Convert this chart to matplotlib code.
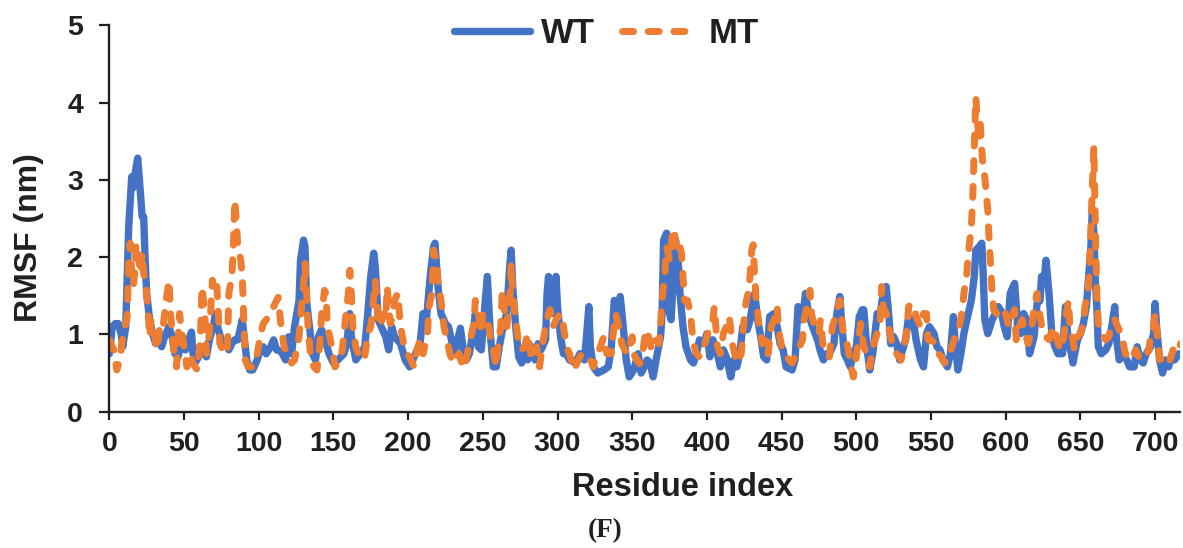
import matplotlib
matplotlib.use("Agg")
import matplotlib.pyplot as plt

plt.rcParams['font.family'] = ['Liberation Sans', 'DejaVu Sans']
plt.rcParams['font.weight'] = 'bold'

# RMSF per residue (nm)
wt_residue = [0, 2, 4, 6, 8, 9, 11, 12, 13, 15, 16, 18,
              19, 20, 22, 23, 24, 25, 27, 29, 31, 33, 35, 37,
              40, 42, 44, 46, 48, 51, 53, 55, 56, 58, 61, 63,
              65, 67, 70, 71, 73, 75, 78, 80, 82, 84, 86, 89,
              90, 92, 94, 96, 99, 101, 103, 105, 108, 110, 112, 115,
              118, 120, 122, 124, 127, 128, 130, 131, 132, 134, 136, 138,
              140, 142, 144, 147, 150, 153, 157, 159, 161, 162, 165, 168,
              171, 173, 175, 177, 178, 180, 182, 185, 187, 189, 191, 195,
              198, 201, 205, 208, 210, 212, 215, 217, 218, 220, 222, 225,
              227, 229, 231, 235, 237, 239, 241, 244, 245, 247, 249, 251,
              253, 255, 257, 259, 261, 264, 266, 268, 269, 270, 272, 274,
              276, 278, 280, 283, 285, 287, 289, 292, 293, 294, 295, 297,
              299, 300, 302, 304, 306, 308, 312, 315, 318, 319, 321, 322,
              324, 327, 331, 334, 336, 338, 340, 342, 344, 346, 348, 351,
              354, 356, 358, 360, 362, 364, 366, 369, 370, 371, 373, 374,
              376, 378, 379, 381, 382, 384, 386, 389, 391, 393, 395, 398,
              400, 402, 404, 407, 409, 411, 413, 416, 418, 420, 422, 424,
              427, 429, 431, 432, 434, 436, 438, 440, 442, 445, 447, 449,
              451, 453, 457, 459, 461, 464, 466, 468, 470, 474, 476, 478,
              480, 482, 485, 487, 489, 490, 492, 494, 496, 498, 500, 502,
              504, 505, 507, 509, 511, 514, 516, 518, 520, 522, 523, 525,
              527, 529, 531, 533, 535, 536, 538, 540, 543, 545, 547, 549,
              552, 554, 556, 558, 561, 563, 565, 566, 568, 570, 572, 574,
              576, 577, 579, 580, 582, 584, 585, 586, 588, 591, 593, 595,
              597, 599, 601, 603, 605, 606, 608, 610, 612, 614, 616, 619,
              621, 623, 624, 626, 627, 629, 631, 633, 635, 638, 640, 642,
              644, 645, 648, 650, 652, 654, 655, 657, 658, 659, 660, 661,
              662, 664, 667, 669, 671, 673, 674, 676, 678, 681, 683, 686,
              688, 690, 692, 694, 697, 699, 700, 701, 703, 705, 707, 709,
              711, 713, 716]
wt_rmsf = [0.75, 1.10, 1.14, 1.14, 1.00, 0.84, 1.10, 1.75, 2.40, 3.04, 2.90, 3.17,
           3.28, 3.04, 2.52, 2.52, 1.96, 1.53, 1.19, 1.01, 0.88, 0.97, 0.84, 0.97,
           1.10, 0.97, 0.75, 0.71, 0.88, 0.80, 0.93, 1.03, 0.75, 0.65, 0.75, 0.84,
           0.71, 0.93, 1.14, 1.27, 1.06, 0.93, 0.88, 0.80, 0.88, 0.93, 0.93, 1.19,
           1.01, 0.67, 0.54, 0.54, 0.67, 0.80, 0.84, 0.75, 0.84, 0.93, 0.80, 0.78,
           0.67, 0.97, 0.75, 1.10, 1.44, 1.96, 2.22, 2.13, 1.44, 1.10, 0.75, 0.67,
           0.97, 1.06, 0.97, 0.75, 0.63, 0.67, 0.75, 0.88, 1.27, 0.97, 0.67, 0.75,
           0.84, 1.27, 1.75, 2.05, 1.88, 1.19, 1.10, 0.97, 0.80, 1.10, 0.97, 0.88,
           0.67, 0.58, 0.75, 0.88, 1.27, 1.14, 1.79, 2.13, 2.18, 1.62, 1.27, 1.14,
           1.10, 0.93, 0.75, 1.08, 0.80, 0.67, 0.75, 1.10, 1.27, 0.84, 0.80, 1.27,
           1.75, 1.01, 0.58, 0.58, 0.84, 1.14, 1.27, 1.88, 2.09, 1.62, 1.10, 0.71,
           0.63, 0.75, 0.67, 0.84, 0.67, 0.88, 0.80, 0.93, 1.53, 1.75, 1.27, 1.27,
           1.75, 1.36, 0.97, 0.75, 0.75, 0.67, 0.63, 0.75, 0.67, 0.88, 1.36, 0.84,
           0.58, 0.50, 0.54, 0.58, 0.84, 1.44, 1.27, 1.49, 1.10, 0.67, 0.45, 0.54,
           0.75, 0.50, 0.58, 0.67, 0.63, 0.45, 0.67, 0.97, 1.27, 2.22, 2.31, 1.36,
           1.19, 1.88, 2.22, 1.88, 1.53, 1.10, 0.84, 0.67, 0.63, 0.75, 0.93, 0.88,
           1.01, 0.71, 0.93, 0.75, 0.58, 0.80, 0.71, 0.45, 0.67, 0.58, 0.75, 1.10,
           1.06, 1.19, 1.44, 1.53, 1.19, 0.97, 0.71, 0.67, 1.23, 1.27, 1.10, 0.88,
           0.80, 0.58, 0.54, 0.67, 1.36, 1.19, 1.53, 1.27, 1.14, 0.93, 0.78, 0.67,
           0.75, 0.75, 0.88, 1.27, 1.49, 1.19, 0.75, 0.67, 0.58, 0.75, 0.84, 1.23,
           1.32, 1.32, 0.84, 0.54, 0.75, 1.27, 1.27, 1.53, 1.62, 1.19, 0.88, 0.97,
           0.88, 0.67, 0.80, 0.93, 1.23, 1.14, 1.19, 0.93, 0.67, 0.58, 1.01, 1.10,
           1.01, 0.84, 0.80, 0.67, 0.58, 0.75, 1.23, 0.93, 0.54, 0.75, 1.01, 1.19,
           1.36, 1.44, 1.75, 2.09, 2.13, 2.18, 1.75, 1.19, 1.01, 1.19, 1.27, 1.36,
           1.30, 1.10, 0.97, 1.53, 1.62, 1.66, 1.10, 1.01, 1.27, 1.19, 0.75, 0.97,
           1.40, 1.44, 1.75, 1.75, 1.96, 1.53, 0.97, 0.84, 0.75, 0.75, 1.36, 0.88,
           0.75, 0.63, 0.93, 1.01, 1.14, 1.36, 1.62, 2.13, 2.61, 2.31, 1.70, 1.36,
           0.84, 0.75, 0.80, 0.88, 1.10, 1.36, 0.97, 0.67, 0.75, 0.67, 0.58, 0.58,
           0.84, 0.67, 0.63, 0.75, 0.84, 1.01, 1.40, 1.10, 0.67, 0.50, 0.67, 0.58,
           0.71, 0.67, 0.75]

mt_residue = [0, 3, 5, 7, 9, 12, 13, 14, 15, 16, 17, 18,
              19, 21, 22, 23, 24, 25, 26, 27, 28, 30, 32, 34,
              36, 38, 40, 41, 43, 45, 47, 48, 52, 54, 56, 59,
              61, 62, 64, 65, 67, 69, 71, 72, 73, 74, 76, 79,
              80, 82, 83, 84, 85, 86, 88, 89, 90, 91, 93, 96,
              99, 101, 103, 105, 108, 110, 113, 115, 117, 119, 122, 124,
              127, 128, 130, 131, 132, 133, 135, 137, 139, 141, 142, 144,
              145, 146, 148, 150, 151, 153, 156, 158, 160, 161, 162, 163,
              165, 168, 171, 173, 175, 177, 178, 180, 181, 184, 185, 186,
              188, 189, 191, 193, 195, 197, 199, 201, 204, 206, 208, 210,
              213, 214, 216, 217, 219, 220, 222, 224, 226, 228, 230, 234,
              237, 239, 241, 244, 245, 247, 249, 250, 252, 254, 255, 257,
              259, 260, 262, 263, 265, 266, 268, 269, 270, 272, 274, 276,
              278, 280, 282, 284, 286, 288, 290, 292, 294, 295, 297, 299,
              302, 304, 306, 308, 311, 314, 316, 318, 322, 324, 326, 328,
              331, 333, 336, 337, 339, 341, 343, 345, 347, 350, 351, 353,
              355, 357, 359, 361, 363, 365, 368, 369, 370, 372, 373, 375,
              377, 378, 380, 382, 383, 384, 385, 387, 389, 390, 391, 393,
              395, 398, 400, 402, 404, 405, 407, 409, 411, 413, 415, 417,
              418, 420, 423, 424, 426, 428, 429, 430, 431, 432, 433, 435,
              437, 440, 441, 443, 445, 447, 448, 450, 452, 455, 457, 459,
              461, 464, 465, 467, 469, 470, 472, 475, 476, 478, 480, 482,
              484, 486, 487, 489, 491, 493, 495, 497, 498, 500, 501, 503,
              505, 507, 509, 511, 514, 516, 517, 518, 520, 521, 523, 525,
              527, 530, 532, 534, 535, 537, 539, 540, 543, 545, 547, 548,
              550, 553, 555, 557, 559, 562, 564, 566, 569, 571, 572, 574,
              575, 577, 578, 579, 580, 581, 582, 583, 584, 585, 586, 587,
              588, 589, 590, 591, 592, 594, 596, 598, 600, 602, 603, 605,
              606, 607, 609, 611, 613, 615, 617, 619, 620, 621, 623, 625,
              627, 629, 632, 633, 635, 637, 639, 640, 642, 643, 645, 646,
              648, 650, 652, 653, 655, 656, 657, 658, 659, 660, 661, 662,
              664, 667, 669, 671, 673, 675, 678, 680, 682, 684, 687, 689,
              691, 693, 696, 697, 699, 700, 702, 703, 706, 708, 710, 712,
              715, 717]
mt_rmsf = [0.93, 0.80, 0.54, 0.67, 0.97, 1.23, 1.96, 2.18, 1.79, 1.62, 1.79, 2.18,
           2.05, 1.79, 2.05, 1.79, 1.70, 1.53, 1.27, 0.97, 1.19, 1.01, 0.80, 1.14,
           1.10, 1.44, 1.70, 1.27, 0.80, 0.58, 1.27, 1.10, 0.58, 0.75, 0.62, 0.54,
           0.97, 1.62, 1.27, 0.75, 1.01, 1.70, 1.53, 1.62, 1.27, 0.88, 0.80, 0.75,
           1.53, 1.75, 2.14, 2.74, 2.48, 2.14, 1.96, 1.75, 1.19, 0.67, 0.58, 0.58,
           0.75, 0.97, 1.14, 1.19, 1.27, 1.36, 1.48, 1.10, 0.84, 0.75, 0.63, 0.67,
           0.97, 1.23, 1.62, 1.92, 1.57, 1.10, 0.67, 0.58, 0.54, 0.88, 1.23, 1.57,
           1.53, 1.10, 0.93, 0.71, 0.58, 0.63, 0.80, 1.19, 1.53, 1.83, 1.53, 1.10,
           0.84, 0.67, 0.71, 1.01, 1.10, 1.48, 1.70, 1.19, 1.10, 1.27, 1.19, 1.62,
           1.14, 1.19, 1.44, 1.53, 1.10, 0.88, 0.75, 0.71, 0.58, 0.80, 0.93, 0.75,
           1.01, 1.36, 1.53, 2.09, 1.96, 1.70, 1.44, 1.10, 0.93, 0.75, 0.63, 0.75,
           0.56, 0.69, 0.88, 1.14, 1.44, 1.27, 1.01, 1.27, 1.19, 1.10, 0.97, 0.80,
           0.58, 0.80, 1.10, 1.57, 1.23, 1.10, 1.44, 1.92, 1.53, 1.19, 0.88, 0.80,
           0.84, 1.01, 0.75, 0.67, 0.84, 0.58, 0.88, 1.10, 1.27, 1.32, 1.10, 1.19,
           1.27, 1.10, 0.84, 0.75, 0.54, 0.67, 0.75, 0.75, 0.67, 0.58, 0.75, 0.80,
           0.97, 0.75, 0.75, 0.97, 1.27, 1.10, 0.88, 0.80, 0.75, 0.97, 0.75, 0.67,
           0.62, 0.75, 1.06, 0.97, 0.80, 0.93, 0.88, 1.14, 1.44, 1.83, 2.13, 1.96,
           2.31, 2.37, 2.05, 2.13, 2.05, 1.75, 1.44, 1.44, 1.27, 1.06, 0.88, 0.75,
           0.71, 0.84, 0.97, 1.10, 1.19, 1.36, 0.84, 0.75, 1.01, 1.10, 1.23, 0.88,
           0.80, 0.63, 0.75, 1.01, 1.40, 1.57, 1.79, 2.09, 2.16, 1.75, 1.44, 1.10,
           0.88, 0.93, 0.75, 1.10, 1.19, 1.36, 1.06, 0.84, 0.75, 0.67, 0.63, 0.71,
           0.80, 0.93, 1.19, 1.36, 1.57, 1.27, 1.10, 1.01, 1.19, 0.80, 0.75, 0.71,
           1.10, 1.23, 1.32, 1.44, 1.06, 0.97, 0.75, 0.54, 0.45, 0.71, 0.88, 1.14,
           0.84, 0.75, 0.58, 0.84, 1.01, 1.19, 1.62, 1.36, 1.27, 1.14, 0.97, 0.80,
           0.75, 0.67, 0.84, 1.06, 1.36, 1.40, 1.32, 1.23, 1.10, 1.27, 1.27, 0.93,
           0.93, 0.88, 0.75, 0.71, 0.63, 0.71, 0.84, 0.97, 1.10, 1.32, 1.53, 1.79,
           2.05, 2.39, 2.80, 3.45, 4.07, 3.77, 3.56, 3.73, 3.39, 3.13, 3.04, 2.82,
           2.61, 2.18, 1.88, 1.49, 1.32, 1.27, 1.23, 1.19, 1.27, 1.10, 1.14, 1.27,
           1.32, 0.93, 1.10, 1.19, 1.01, 0.88, 1.01, 1.36, 1.44, 1.53, 1.23, 1.01,
           0.97, 0.93, 1.10, 1.06, 0.88, 0.80, 0.97, 1.19, 1.44, 1.10, 0.93, 0.80,
           0.97, 1.01, 1.14, 1.36, 1.53, 1.83, 2.39, 2.91, 3.43, 2.40, 1.53, 1.14,
           1.01, 0.93, 0.97, 1.14, 1.19, 1.10, 0.97, 0.75, 0.71, 0.67, 0.80, 0.71,
           0.75, 0.71, 0.80, 1.01, 1.10, 1.27, 0.88, 0.67, 0.71, 0.75, 0.67, 0.80,
           0.75, 0.88]

y_ticks = [0, 1, 2, 3, 4, 5]
x_ticks = list(range(0, 701, 50))

ink = '#231f20'
fig = plt.figure(figsize=(11.83, 5.48), dpi=100)
ax = fig.add_axes([0.0924, 0.2487, 0.9051, 0.7053])

ax.plot(wt_residue, wt_rmsf, color='#4472c4', lw=5.3, solid_joinstyle='round',
        solid_capstyle='round', label='WT')
ax.plot(mt_residue, mt_rmsf, color='#ed7d31', lw=5.0, dashes=(1.6, 2.1),
        dash_capstyle='round', dash_joinstyle='round', label='MT')

ax.set_xlim(0, 716.7)
ax.set_ylim(0, 5)
ax.set_xticks(x_ticks)
ax.set_yticks(y_ticks)
ax.tick_params(axis='both', colors=ink, labelsize=20.5, width=1.6, direction='out')
ax.tick_params(axis='y', length=7, pad=12)
ax.tick_params(axis='x', length=5.8, pad=8)
for s in ['top', 'right']:
    ax.spines[s].set_visible(False)
for s in ['left', 'bottom']:
    ax.spines[s].set_linewidth(1.7)
    ax.spines[s].set_color(ink)

fig.text(0.0245, 0.566, 'RMSF (nm)', rotation=90, ha='center', va='center',
         fontsize=23, fontweight='bold', color=ink)
fig.text(683 / 1183, 1 - 488 / 548, 'Residue index', ha='center', va='center',
         fontsize=23.5, fontweight='bold', color=ink)
fig.text(605 / 1183, 1 - 531 / 548, '(F)', ha='center', va='center',
         fontsize=19.5, fontweight='bold', color=ink, family='Liberation Serif')

fig.legend(loc='center', bbox_to_anchor=(606.5 / 1183, 1 - 33.3 / 548), ncol=2,
           frameon=False, prop={'size': 25, 'weight': 'bold'}, handlelength=2.2,
           handletextpad=0.3, columnspacing=0.8, labelcolor=ink)

fig.savefig('out.png', dpi=100)
